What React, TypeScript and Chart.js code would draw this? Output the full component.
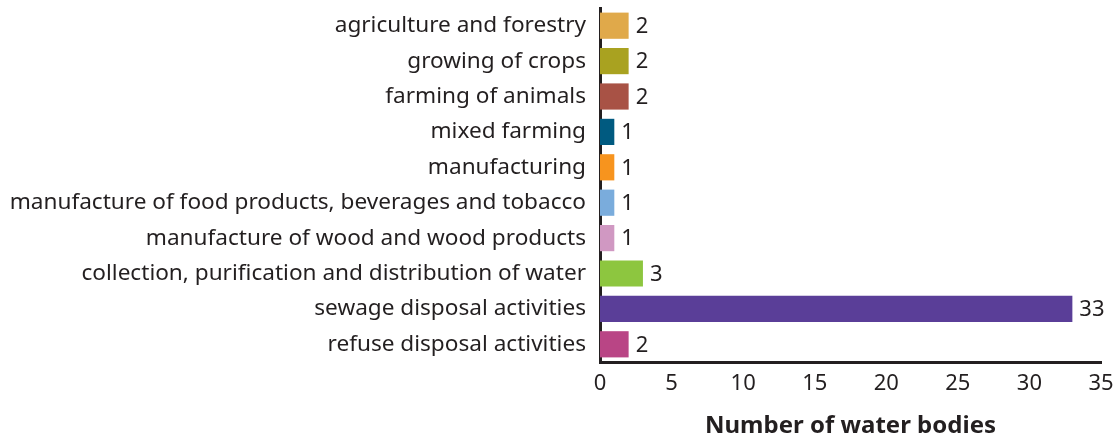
import React, { useEffect, useRef } from "react";
import { Chart, registerables } from "chart.js";

Chart.register(...registerables);

const categories = [
  "agriculture and forestry",
  "growing of crops",
  "farming of animals",
  "mixed farming",
  "manufacturing",
  "manufacture of food products, beverages and tobacco",
  "manufacture of wood and wood products",
  "collection, purification and distribution of water",
  "sewage disposal activities",
  "refuse disposal activities",
];
const values = [2, 2, 2, 1, 1, 1, 1, 3, 33, 2];
const barColors = [
  "#E0A94A",
  "#A9A220",
  "#A85245",
  "#005A80",
  "#F7941E",
  "#7AACDC",
  "#D098C2",
  "#8DC63F",
  "#5A3E98",
  "#B94585",
];
const xTicks = [0, 5, 10, 15, 20, 25, 30, 35];
const xTitle = "Number of water bodies";

const FONT = "'Noto Sans', sans-serif";
const TEXT = "#231f20";

const valueLabels = {
  id: "valueLabels",
  afterDatasetsDraw(chart: any) {
    const ctx = chart.ctx;
    const meta = chart.getDatasetMeta(0);
    ctx.save();
    ctx.fillStyle = TEXT;
    ctx.font = `22px ${FONT}`;
    ctx.textAlign = "left";
    ctx.textBaseline = "middle";
    meta.data.forEach((bar: any, i: number) => {
      ctx.fillText(String(values[i]), bar.x + 7, bar.y + 1);
    });
    ctx.restore();
  },
};

export default function App() {
  const ref = useRef<HTMLCanvasElement>(null);
  useEffect(() => {
    const chart = new Chart(ref.current!, {
      type: "bar",
      data: {
        labels: categories,
        datasets: [
          {
            data: values,
            backgroundColor: barColors,
            barPercentage: 0.74,
            categoryPercentage: 1,
          },
        ],
      },
      options: {
        indexAxis: "y",
        animation: false,
        responsive: false,
        layout: { padding: { top: 8, right: 18, left: 0, bottom: 0 } },
        plugins: { legend: { display: false }, tooltip: { enabled: false } },
        scales: {
          y: {
            afterFit(scale: any) {
              scale.width = 600;
              scale.paddingTop = 0;
              scale.paddingBottom = 0;
            },
            grid: { display: false, drawTicks: false },
            border: { display: true, color: TEXT, width: 3 },
            ticks: {
              color: TEXT,
              padding: 14,
              font: { family: FONT, size: 22.6 },
            },
          },
          x: {
            min: 0,
            max: 35,
            afterFit(scale: any) {
              scale.height = 79;
              scale.paddingLeft = 0;
              scale.paddingRight = 0;
            },
            afterBuildTicks(scale: any) {
              scale.ticks = xTicks.map((v) => ({ value: v }));
            },
            grid: { display: false, drawTicks: false },
            border: { display: true, color: TEXT, width: 3 },
            ticks: {
              color: TEXT,
              padding: 9,
              font: { family: FONT, size: 22 },
            },
            title: {
              display: true,
              text: xTitle,
              color: TEXT,
              font: { family: FONT, size: 24, weight: "bold" },
              padding: { top: 12, bottom: 0 },
            },
          },
        },
      },
      plugins: [valueLabels],
    });
    return () => chart.destroy();
  }, []);
  return (
    <div style={{ position: "fixed", left: 0, top: 0, width: 1119, height: 441, background: "#fff" }}>
      <canvas ref={ref} width={1119} height={441} />
    </div>
  );
}
